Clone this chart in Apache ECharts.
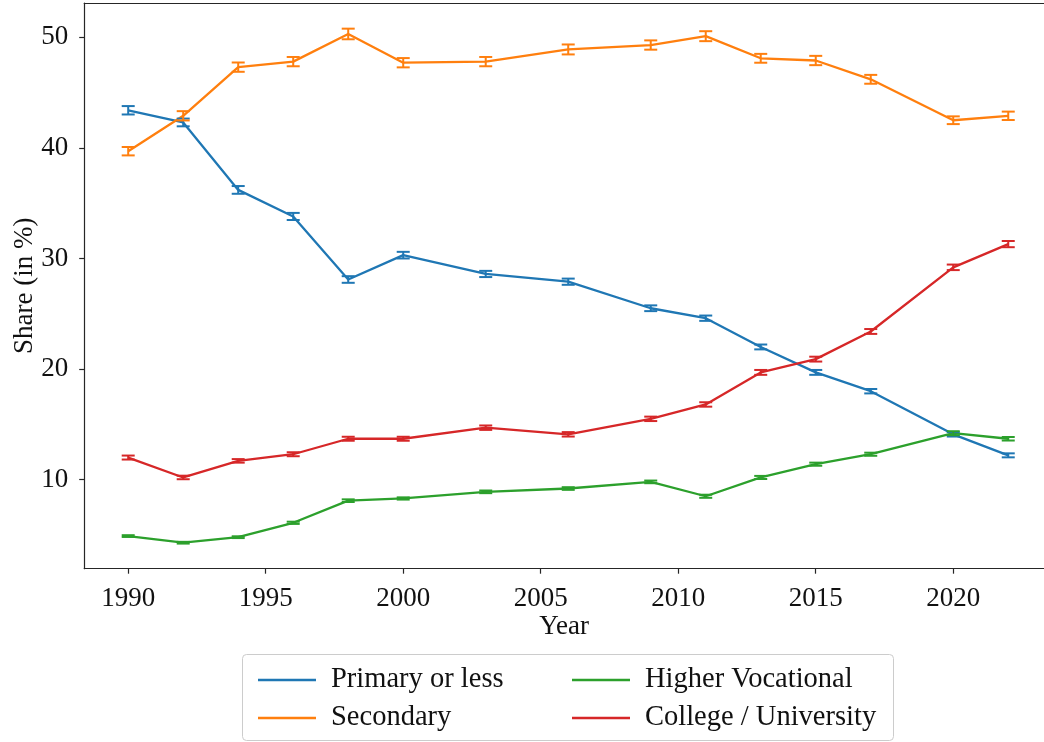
<!DOCTYPE html>
<html>
<head>
<meta charset="utf-8">
<script src="https://cdn.jsdelivr.net/npm/echarts@6/dist/echarts.min.js"></script>
<style>
html,body{margin:0;padding:0;background:#fff;}
#chart{width:1044px;height:742px;}
</style>
</head>
<body>
<div id="chart"></div>
<script>
const years = [1990,1992,1994,1996,1998,2000,2003,2006,2009,2011,2013,2015,2017,2020,2022];
const primary = [43.4,42.3,36.2,33.8,28.1,30.3,28.6,27.9,25.5,24.6,22.0,19.7,18.0,14.1,12.2];
const secondary = [39.7,42.9,47.3,47.8,50.3,47.7,47.8,48.9,49.3,50.1,48.1,47.9,46.2,42.5,42.9];
const vocational = [4.9,4.3,4.8,6.1,8.1,8.3,8.9,9.2,9.8,8.5,10.2,11.4,12.3,14.2,13.7];
const college = [12.0,10.2,11.7,12.3,13.7,13.7,14.7,14.1,15.5,16.8,19.7,20.9,23.4,29.2,31.3];
const primaryErr = [0.38,0.35,0.35,0.32,0.30,0.30,0.28,0.28,0.26,0.24,0.22,0.22,0.20,0.20,0.18];
const secondaryErr = [0.38,0.42,0.42,0.42,0.48,0.42,0.42,0.45,0.42,0.45,0.40,0.42,0.40,0.35,0.38];
const vocationalErr = [0.08,0.08,0.08,0.10,0.12,0.10,0.12,0.12,0.12,0.14,0.14,0.14,0.14,0.18,0.16];
const collegeErr = [0.18,0.16,0.16,0.18,0.18,0.18,0.20,0.20,0.20,0.20,0.22,0.22,0.22,0.25,0.28];
const seriesNames = ['Primary or less','Secondary','Higher Vocational','College / University'];
const xTicks = [1990,1995,2000,2005,2010,2015,2020];
const yTicks = [10,20,30,40,50];
const colors = ['#1f77b4','#ff7f0e','#2ca02c','#d62728'];

const FONT = 'Liberation Serif';
const FS = 27;
const AX = '#262626';
const allVals = [primary, secondary, vocational, college];
const allErrs = [primaryErr, secondaryErr, vocationalErr, collegeErr];

const series = [];
allVals.forEach((vals, i) => {
  series.push({
    name: seriesNames[i], type: 'line', data: years.map((y, k) => [y, vals[k]]),
    showSymbol: false, symbol: 'none', lineStyle: {color: colors[i], width: 2.3},
    itemStyle: {color: colors[i]}, z: 3, emphasis: {disabled: true}
  });
});
allVals.forEach((vals, i) => {
  const errs = allErrs[i];
  series.push({
    type: 'custom', z: 4,
    data: years.map((y, k) => [y, vals[k] - errs[k], vals[k] + errs[k]]),
    renderItem: function (params, api) {
      const lo = api.coord([api.value(0), api.value(1)]);
      const hi = api.coord([api.value(0), api.value(2)]);
      const hw = 6.5;
      const st = {stroke: colors[i], lineWidth: 2};
      return {type: 'group', children: [
        {type: 'line', shape: {x1: lo[0], y1: lo[1], x2: hi[0], y2: hi[1]}, style: st},
        {type: 'line', shape: {x1: lo[0]-hw, y1: lo[1], x2: lo[0]+hw, y2: lo[1]}, style: st},
        {type: 'line', shape: {x1: hi[0]-hw, y1: hi[1], x2: hi[0]+hw, y2: hi[1]}, style: st}
      ]};
    }
  });
});

const legendCommon = {
  orient: 'vertical', icon: 'rect', itemWidth: 58, itemHeight: 2.5, itemGap: 9,
  textStyle: {fontFamily: FONT, fontSize: 28.5, color: '#111', lineHeight: 27, padding: [0,0,0,10]},
  selectedMode: false
};

const chart = echarts.init(document.getElementById('chart'), null, {renderer: 'canvas'});
chart.setOption({
  animation: false,
  backgroundColor: '#fff',
  textStyle: {fontFamily: FONT},
  grid: {left: 84.2, top: 3, right: 0, bottom: 173.3, show: false, containLabel: false, outerBoundsMode: 'none'},
  xAxis: [{
    type: 'value', min: 1988.4, max: 2023.3,
    name: 'Year', nameLocation: 'middle', nameGap: 45, nameMoveOverlap: false,
    nameTextStyle: {fontFamily: FONT, fontSize: FS, color: '#111', lineHeight: 27},
    axisLine: {show: true, lineStyle: {color: AX, width: 1.2}},
    axisTick: {show: true, length: 5, lineStyle: {color: AX, width: 1.2}, customValues: xTicks},
    axisLabel: {fontFamily: FONT, fontSize: FS, color: '#111', margin: 17, lineHeight: 27,
      customValues: xTicks, formatter: v => String(v)},
    splitLine: {show: false}
  }, {
    type: 'value', min: 1988.4, max: 2023.3, position: 'top',
    axisLine: {show: true, lineStyle: {color: AX, width: 1.2}},
    axisTick: {show: false}, axisLabel: {show: false}, splitLine: {show: false}
  }],
  yAxis: {
    type: 'value', min: 1.95, max: 53.1,
    name: 'Share (in %)', nameLocation: 'middle', nameGap: 46, nameRotate: 90, nameMoveOverlap: false,
    nameTextStyle: {fontFamily: FONT, fontSize: FS, color: '#111', lineHeight: 27},
    axisLine: {show: true, lineStyle: {color: AX, width: 1.2}},
    axisTick: {show: true, length: 5, lineStyle: {color: AX, width: 1.2}, customValues: yTicks},
    axisLabel: {fontFamily: FONT, fontSize: FS, color: '#111', margin: 16, customValues: yTicks},
    splitLine: {show: false}
  },
  legend: [
    Object.assign({}, legendCommon, {left: 253, top: 660.5, data: [seriesNames[0], seriesNames[1]]}),
    Object.assign({}, legendCommon, {left: 567, top: 660.5, data: [seriesNames[2], seriesNames[3]]})
  ],
  graphic: [{
    type: 'rect', z: -1, shape: {x: 242.5, y: 654.5, width: 651, height: 86, r: 4},
    style: {fill: '#fff', stroke: '#cccccc', lineWidth: 1}
  }],
  series: series
});
</script>
</body>
</html>
